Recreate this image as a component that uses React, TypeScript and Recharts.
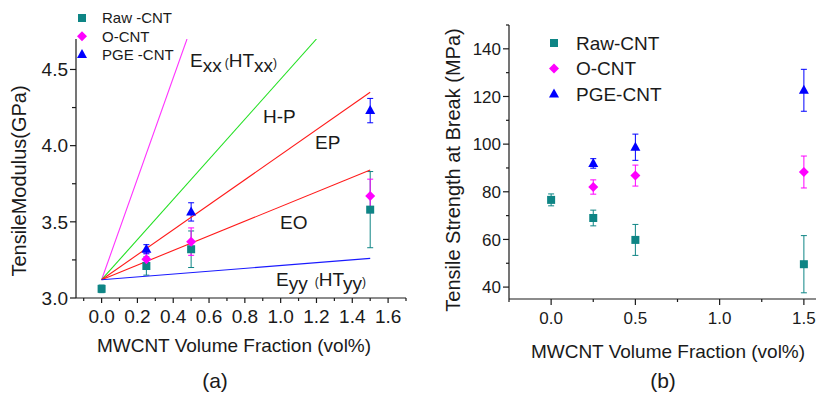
import React from "react";
import { ComposedChart, Scatter, ErrorBar, XAxis, YAxis } from "recharts";

const FONT = "'Liberation Sans', Arial, sans-serif";
const INK = "#1a1a1a";
const TEAL = "#0e8585";
const MAGENTA = "#ff00ff";
const BLUE = "#0000ff";

// MWCNT volume fractions
const fractions = [0, 0.25, 0.5, 1.5];
const fractionsFunc = [0.25, 0.5, 1.5];

// (a) tensile modulus, GPa
const rawModulus = [3.06, 3.21, 3.32, 3.58];
const rawModulusErr = [0.025, 0.06, 0.12, 0.25];
const oModulus = [3.255, 3.37, 3.67];
const oModulusErr = [0.04, 0.09, 0.11];
const pgeModulus = [3.32, 3.565, 4.23];
const pgeModulusErr = [0.03, 0.06, 0.08];

// (a) model predictions, straight lines from the matrix value
const modelStart = [0, 3.12];
const modelEndX = [0.477, 1.2, 1.5, 1.5, 1.5];
const modelEndY = [4.7, 4.7, 4.35, 3.84, 3.26];
const modelColors = ["#ff33ff", "#22e022", "#ff1a1a", "#ff1a1a", "#1a1aff"];

// (b) tensile strength at break, MPa
const rawStrength = [76.6, 69.0, 59.8, 49.6];
const rawStrengthErr = [2.5, 3.3, 6.5, 12];
const oStrength = [82, 86.8, 88.3];
const oStrengthErr = [3, 4.4, 6.7];
const pgeStrength = [91.9, 98.7, 122.6];
const pgeStrengthErr = [2, 5.5, 8.8];

// legend names
const namesA = ["Raw -CNT", "O-CNT", "PGE -CNT"];
const namesB = ["Raw-CNT", "O-CNT", "PGE-CNT"];

// ticks
const xTicksA = [-0.1, 0, 0.1, 0.2, 0.3, 0.4, 0.5, 0.6, 0.7, 0.8, 0.9, 1.0, 1.1, 1.2, 1.3, 1.4, 1.5, 1.6, 1.7];
const xMajorsA = [0, 0.2, 0.4, 0.6, 0.8, 1.0, 1.2, 1.4, 1.6];
const yTicksA = [3.0, 3.25, 3.5, 3.75, 4.0, 4.25, 4.5];
const yMajorsA = [3.0, 3.5, 4.0, 4.5];
const xTicksB = [-0.25, 0, 0.25, 0.5, 0.75, 1.0, 1.25, 1.5, 1.75];
const xMajorsB = [0, 0.5, 1.0, 1.5];
const yTicksB = [40, 50, 60, 70, 80, 90, 100, 110, 120, 130, 140, 150];
const yMajorsB = [40, 60, 80, 100, 120, 140];

const toPoints = (xs: number[], ys: number[], errs: number[]) =>
  xs.map((x, i) => ({ x, y: ys[i], err: errs[i] }));

const modelLines = modelEndX.map((ex, i) => [
  { x: modelStart[0], y: modelStart[1] },
  { x: ex, y: modelEndY[i] },
]);

type Kind = "square" | "diamond" | "triangle";
const kinds: Kind[] = ["square", "diamond", "triangle"];
const colors = [TEAL, MAGENTA, BLUE];

function marker(kind: Kind, cx: number, cy: number, color: string) {
  if (kind === "square") {
    return <rect x={cx - 4} y={cy - 4} width={8} height={8} fill={color} />;
  }
  if (kind === "diamond") {
    return (
      <polygon
        points={`${cx},${cy - 5} ${cx + 5},${cy} ${cx},${cy + 5} ${cx - 5},${cy}`}
        fill={color}
      />
    );
  }
  return (
    <polygon
      points={`${cx},${cy - 5.5} ${cx + 5},${cy + 3.5} ${cx - 5},${cy + 3.5}`}
      fill={color}
    />
  );
}

const shape = (kind: Kind, color: string) => (p: any) => marker(kind, p.cx, p.cy, color);
const noShape = () => <g />;

const isIn = (list: number[], v: number) => list.some((m) => Math.abs(m - v) < 1e-6);

function makeXTick(majors: number[], fontSize: number, digits: number, major: number, minor: number) {
  return (p: any) => {
    const v = p.payload.value;
    const big = isIn(majors, v);
    return (
      <g>
        <line x1={p.x} x2={p.x} y1={p.y} y2={p.y + (big ? major : minor)} stroke={INK} strokeWidth={1.2} />
        {big && (
          <text x={p.x} y={p.y + 25} textAnchor="middle" fontSize={fontSize} fontFamily={FONT} fill={INK}>
            {v.toFixed(digits)}
          </text>
        )}
      </g>
    );
  };
}

function makeYTick(majors: number[], fontSize: number, digits: number, major: number, minor: number, gap: number) {
  return (p: any) => {
    const v = p.payload.value;
    const big = isIn(majors, v);
    return (
      <g>
        <line x1={p.x} x2={p.x - (big ? major : minor)} y1={p.y} y2={p.y} stroke={INK} strokeWidth={1.2} />
        {big && (
          <text x={p.x - gap} y={p.y} dy="0.36em" textAnchor="end" fontSize={fontSize} fontFamily={FONT} fill={INK}>
            {v.toFixed(digits)}
          </text>
        )}
      </g>
    );
  };
}

const axisLine = { stroke: INK, strokeWidth: 1.2 };

function ModulusChart() {
  return (
    <ComposedChart width={420} height={394} margin={{ top: 39, right: 14, bottom: 0, left: 0 }}>
      <XAxis
        type="number"
        dataKey="x"
        domain={[-0.143, 1.7]}
        ticks={xTicksA}
        interval={0}
        allowDataOverflow
        height={96}
        tickSize={0}
        tickMargin={0}
        tickLine={false}
        axisLine={axisLine}
        tick={makeXTick(xMajorsA, 19, 1, 5, 3)}
      />
      <YAxis
        type="number"
        dataKey="y"
        domain={[3.0, 4.7]}
        ticks={yTicksA}
        interval={0}
        allowDataOverflow
        width={76}
        tickSize={0}
        tickMargin={0}
        tickLine={false}
        axisLine={axisLine}
        tick={makeYTick(yMajorsA, 19, 1, 6, 4, 8)}
      />
      {modelLines.map((pts, i) => (
        <Scatter
          key={i}
          data={pts}
          line={{ stroke: modelColors[i], strokeWidth: 1.1 }}
          shape={noShape}
          isAnimationActive={false}
        />
      ))}
      <Scatter name={namesA[0]} data={toPoints(fractions, rawModulus, rawModulusErr)} shape={shape("square", TEAL)} isAnimationActive={false}>
        <ErrorBar dataKey="err" direction="y" width={3} stroke={TEAL} strokeWidth={1} />
      </Scatter>
      <Scatter name={namesA[1]} data={toPoints(fractionsFunc, oModulus, oModulusErr)} shape={shape("diamond", MAGENTA)} isAnimationActive={false}>
        <ErrorBar dataKey="err" direction="y" width={3} stroke={MAGENTA} strokeWidth={1} />
      </Scatter>
      <Scatter name={namesA[2]} data={toPoints(fractionsFunc, pgeModulus, pgeModulusErr)} shape={shape("triangle", BLUE)} isAnimationActive={false}>
        <ErrorBar dataKey="err" direction="y" width={3} stroke={BLUE} strokeWidth={1} />
      </Scatter>
    </ComposedChart>
  );
}

function StrengthChart() {
  return (
    <ComposedChart width={446} height={394} margin={{ top: 25, right: 10, bottom: 0, left: 0 }}>
      <XAxis
        type="number"
        dataKey="x"
        domain={[-0.25, 1.75]}
        ticks={xTicksB}
        interval={0}
        allowDataOverflow
        height={95}
        tickSize={0}
        tickMargin={0}
        tickLine={false}
        axisLine={axisLine}
        tick={makeXTick(xMajorsB, 17, 1, 6, 3)}
      />
      <YAxis
        type="number"
        dataKey="y"
        domain={[35, 150]}
        ticks={yTicksB}
        interval={0}
        allowDataOverflow
        width={99}
        tickSize={0}
        tickMargin={0}
        tickLine={false}
        axisLine={axisLine}
        tick={makeYTick(yMajorsB, 17, 0, 6, 3, 8)}
      />
      <Scatter name={namesB[0]} data={toPoints(fractions, rawStrength, rawStrengthErr)} shape={shape("square", TEAL)} isAnimationActive={false}>
        <ErrorBar dataKey="err" direction="y" width={3} stroke={TEAL} strokeWidth={1} />
      </Scatter>
      <Scatter name={namesB[1]} data={toPoints(fractionsFunc, oStrength, oStrengthErr)} shape={shape("diamond", MAGENTA)} isAnimationActive={false}>
        <ErrorBar dataKey="err" direction="y" width={3} stroke={MAGENTA} strokeWidth={1} />
      </Scatter>
      <Scatter name={namesB[2]} data={toPoints(fractionsFunc, pgeStrength, pgeStrengthErr)} shape={shape("triangle", BLUE)} isAnimationActive={false}>
        <ErrorBar dataKey="err" direction="y" width={3} stroke={BLUE} strokeWidth={1} />
      </Scatter>
    </ComposedChart>
  );
}

const txt = { fontFamily: FONT, fill: INK } as const;

function LegendBlock({ names, x, y, rowH, fontSize, textDx }: { names: string[]; x: number; y: number; rowH: number; fontSize: number; textDx: number }) {
  return (
    <g>
      {names.map((n, i) => {
        const cy = y + rowH * i;
        return (
          <g key={n}>
            {marker(kinds[i], x, cy, colors[i])}
            <text {...txt} x={x + textDx} y={cy} dy="0.36em" fontSize={fontSize}>
              {n}
            </text>
          </g>
        );
      })}
    </g>
  );
}

function Annotations() {
  return (
    <svg width={816} height={394} style={{ position: "absolute", left: 0, top: 0, pointerEvents: "none" }}>
      <LegendBlock names={namesA} x={82} y={18} rowH={18.3} fontSize={15} textDx={20} />
      <LegendBlock names={namesB} x={554} y={43} rowH={25.5} fontSize={19} textDx={22} />
      {/* axis titles */}
      <text {...txt} fontSize={20} textAnchor="middle" transform="translate(26,181) rotate(-90)">
        TensileModulus(GPa)
      </text>
      <text {...txt} fontSize={19} x={234} y={352} textAnchor="middle">
        MWCNT Volume Fraction (vol%)
      </text>
      <text {...txt} fontSize={21} x={215} y={388} textAnchor="middle">
        (a)
      </text>
      <text {...txt} fontSize={20} textAnchor="middle" transform="translate(460,170) rotate(-90)">
        Tensile Strength at Break (MPa)
      </text>
      <text {...txt} fontSize={19} x={668} y={358} textAnchor="middle">
        MWCNT Volume Fraction (vol%)
      </text>
      <text {...txt} fontSize={21} x={663} y={388} textAnchor="middle">
        (b)
      </text>
      {/* model labels in (a) */}
      <text {...txt} fontSize={19} x={190} y={67}>
        E<tspan dy={5}>xx</tspan>
        <tspan dy={-5} fontSize={12} dx={3}>(</tspan>
        <tspan fontSize={19}>HT</tspan>
        <tspan dy={5}>xx</tspan>
        <tspan dy={-5} fontSize={12}>)</tspan>
      </text>
      <text {...txt} fontSize={19} x={263} y={123}>H-P</text>
      <text {...txt} fontSize={19} x={315} y={149}>EP</text>
      <text {...txt} fontSize={19} x={280} y={229}>EO</text>
      <text {...txt} fontSize={19} x={276} y={286}>
        E<tspan dy={4}>yy</tspan>
        <tspan dy={-4} fontSize={12} dx={7}>(</tspan>
        <tspan fontSize={19}>HT</tspan>
        <tspan dy={4}>yy</tspan>
        <tspan dy={-4} fontSize={12}>)</tspan>
      </text>
    </svg>
  );
}

export default function App() {
  return (
    <div
      style={{
        position: "absolute",
        left: 0,
        top: 0,
        width: 816,
        height: 394,
        overflow: "hidden",
        background: "#fff",
        fontFamily: FONT,
      }}
    >
      <div style={{ position: "absolute", left: 0, top: 0 }}>
        <ModulusChart />
      </div>
      <div style={{ position: "absolute", left: 410, top: 0 }}>
        <StrengthChart />
      </div>
      <Annotations />
    </div>
  );
}
